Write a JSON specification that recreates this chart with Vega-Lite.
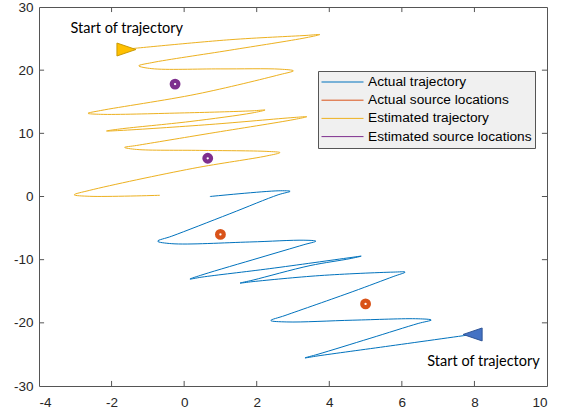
{
  "$schema": "https://vega.github.io/schema/vega-lite/v6.json",
  "width": 508,
  "height": 379,
  "autosize": "none",
  "padding": {"left": 39, "top": 7, "right": 16, "bottom": 29},
  "background": "white",
  "config": {
    "view": {"stroke": "#555555", "strokeWidth": 1},
    "axis": {
      "grid": false,
      "labelFont": "Liberation Sans",
      "labelFontSize": 13.5,
      "labelColor": "#262626",
      "domain": false,
      "ticks": false,
      "title": null,
      "labelExpr": "datum.value < 0 ? '-' + abs(datum.value) : '' + datum.value"
    },
    "legend": {
      "orient": "none",
      "legendX": 279,
      "legendY": 64,
      "fillColor": "#f0f0f0",
      "strokeColor": "#555555",
      "padding": 3,
      "labelFont": "Liberation Sans",
      "labelFontSize": 13.7,
      "labelColor": "#000000",
      "labelOffset": 4,
      "labelLimit": 400,
      "symbolSize": 1764,
      "symbolStrokeWidth": 1,
      "clipHeight": 16,
      "rowPadding": 2.2
    }
  },
  "datasets": {
    "traj": [
      {"s":"Actual trajectory","i":1,"x":7.94,"y":-21.84},
      {"s":"Actual trajectory","i":2,"x":5.68,"y":-23.65},
      {"s":"Actual trajectory","i":3,"x":3.69,"y":-25.23},
      {"s":"Actual trajectory","i":4,"x":3.33,"y":-25.55},
      {"s":"Actual trajectory","i":5,"x":3.69,"y":-24.97},
      {"s":"Actual trajectory","i":6,"x":5.12,"y":-22.46},
      {"s":"Actual trajectory","i":7,"x":6.45,"y":-20.10},
      {"s":"Actual trajectory","i":8,"x":6.81,"y":-19.55},
      {"s":"Actual trajectory","i":9,"x":6.45,"y":-19.36},
      {"s":"Actual trajectory","i":10,"x":4.65,"y":-19.58},
      {"s":"Actual trajectory","i":11,"x":2.83,"y":-19.86},
      {"s":"Actual trajectory","i":12,"x":2.39,"y":-19.63},
      {"s":"Actual trajectory","i":13,"x":2.78,"y":-18.84},
      {"s":"Actual trajectory","i":14,"x":4.65,"y":-15.05},
      {"s":"Actual trajectory","i":15,"x":5.76,"y":-12.68},
      {"s":"Actual trajectory","i":16,"x":6.09,"y":-11.97},
      {"s":"Actual trajectory","i":17,"x":5.76,"y":-11.97},
      {"s":"Actual trajectory","i":18,"x":3.74,"y":-12.52},
      {"s":"Actual trajectory","i":19,"x":1.90,"y":-13.47},
      {"s":"Actual trajectory","i":20,"x":1.54,"y":-13.71},
      {"s":"Actual trajectory","i":21,"x":1.90,"y":-13.23},
      {"s":"Actual trajectory","i":22,"x":3.47,"y":-10.94},
      {"s":"Actual trajectory","i":23,"x":4.57,"y":-9.84},
      {"s":"Actual trajectory","i":24,"x":4.88,"y":-9.44},
      {"s":"Actual trajectory","i":25,"x":4.57,"y":-9.68},
      {"s":"Actual trajectory","i":26,"x":2.36,"y":-11.42},
      {"s":"Actual trajectory","i":27,"x":0.49,"y":-12.76},
      {"s":"Actual trajectory","i":28,"x":0.16,"y":-13.07},
      {"s":"Actual trajectory","i":29,"x":0.52,"y":-12.36},
      {"s":"Actual trajectory","i":30,"x":2.09,"y":-9.68},
      {"s":"Actual trajectory","i":31,"x":3.30,"y":-7.63},
      {"s":"Actual trajectory","i":32,"x":3.63,"y":-7.07},
      {"s":"Actual trajectory","i":33,"x":3.30,"y":-6.92},
      {"s":"Actual trajectory","i":34,"x":1.81,"y":-7.20},
      {"s":"Actual trajectory","i":35,"x":-0.34,"y":-7.47},
      {"s":"Actual trajectory","i":36,"x":-0.73,"y":-7.07},
      {"s":"Actual trajectory","i":37,"x":-0.34,"y":-6.28},
      {"s":"Actual trajectory","i":38,"x":1.26,"y":-2.73},
      {"s":"Actual trajectory","i":39,"x":2.59,"y":0.27},
      {"s":"Actual trajectory","i":40,"x":2.92,"y":0.82},
      {"s":"Actual trajectory","i":41,"x":2.59,"y":0.90},
      {"s":"Actual trajectory","i":42,"x":0.71,"y":0.00},
      {"s":"Estimated trajectory","i":1,"x":-1.61,"y":23.32},
      {"s":"Estimated trajectory","i":2,"x":1.26,"y":24.82},
      {"s":"Estimated trajectory","i":3,"x":3.36,"y":25.50},
      {"s":"Estimated trajectory","i":4,"x":3.74,"y":25.64},
      {"s":"Estimated trajectory","i":5,"x":3.36,"y":25.14},
      {"s":"Estimated trajectory","i":6,"x":1.26,"y":23.16},
      {"s":"Estimated trajectory","i":7,"x":-0.89,"y":21.19},
      {"s":"Estimated trajectory","i":8,"x":-1.25,"y":20.69},
      {"s":"Estimated trajectory","i":9,"x":-0.89,"y":20.24},
      {"s":"Estimated trajectory","i":10,"x":0.99,"y":20.20},
      {"s":"Estimated trajectory","i":11,"x":2.64,"y":20.16},
      {"s":"Estimated trajectory","i":12,"x":3.01,"y":19.90},
      {"s":"Estimated trajectory","i":13,"x":2.64,"y":19.30},
      {"s":"Estimated trajectory","i":14,"x":0.35,"y":16.22},
      {"s":"Estimated trajectory","i":15,"x":-2.30,"y":13.61},
      {"s":"Estimated trajectory","i":16,"x":-2.65,"y":13.17},
      {"s":"Estimated trajectory","i":17,"x":-2.30,"y":13.01},
      {"s":"Estimated trajectory","i":18,"x":-0.12,"y":13.22},
      {"s":"Estimated trajectory","i":19,"x":1.87,"y":13.56},
      {"s":"Estimated trajectory","i":20,"x":2.23,"y":13.69},
      {"s":"Estimated trajectory","i":21,"x":1.87,"y":13.22},
      {"s":"Estimated trajectory","i":22,"x":0.16,"y":11.87},
      {"s":"Estimated trajectory","i":23,"x":-1.77,"y":10.69},
      {"s":"Estimated trajectory","i":24,"x":-2.14,"y":10.37},
      {"s":"Estimated trajectory","i":25,"x":-1.77,"y":10.45},
      {"s":"Estimated trajectory","i":26,"x":0.71,"y":11.40},
      {"s":"Estimated trajectory","i":27,"x":3.03,"y":12.51},
      {"s":"Estimated trajectory","i":28,"x":3.38,"y":12.63},
      {"s":"Estimated trajectory","i":29,"x":3.03,"y":12.19},
      {"s":"Estimated trajectory","i":30,"x":0.71,"y":10.00},
      {"s":"Estimated trajectory","i":31,"x":-1.31,"y":8.08},
      {"s":"Estimated trajectory","i":32,"x":-1.64,"y":7.77},
      {"s":"Estimated trajectory","i":33,"x":-1.31,"y":7.45},
      {"s":"Estimated trajectory","i":34,"x":0.43,"y":7.30},
      {"s":"Estimated trajectory","i":35,"x":2.28,"y":7.14},
      {"s":"Estimated trajectory","i":36,"x":2.64,"y":6.95},
      {"s":"Estimated trajectory","i":37,"x":2.28,"y":6.43},
      {"s":"Estimated trajectory","i":38,"x":0.24,"y":4.45},
      {"s":"Estimated trajectory","i":39,"x":-2.60,"y":0.98},
      {"s":"Estimated trajectory","i":40,"x":-3.03,"y":0.27},
      {"s":"Estimated trajectory","i":41,"x":-2.60,"y":0.03},
      {"s":"Estimated trajectory","i":42,"x":-0.67,"y":0.19}
    ],
    "src": [
      {"s":"Actual source locations","x":1.0,"y":-6.0},
      {"s":"Actual source locations","x":5.0,"y":-17.0},
      {"s":"Estimated source locations","x":-0.25,"y":17.8},
      {"s":"Estimated source locations","x":0.65,"y":6.05}
    ],
    "starts": [
      {"s":"Actual","x":7.95,"y":-21.84},
      {"s":"Estimated","x":-1.59,"y":23.27}
    ],
    "notes": [
      {"label":"Start of trajectory","x":-3.13,"y":26.48},
      {"label":"Start of trajectory","x":6.70,"y":-26.21}
    ],
    "xticks": [{"v":-2},{"v":0},{"v":2},{"v":4},{"v":6},{"v":8}],
    "yticks": [{"v":-20},{"v":-10},{"v":0},{"v":10},{"v":20}]
  },
  "layer": [
    {
      "data": {"name": "traj"},
      "mark": {"type": "line", "interpolate": "catmull-rom", "strokeWidth": 1},
      "encoding": {
        "x": {"field": "x", "type": "quantitative", "scale": {"domain": [-4, 10], "nice": false, "zero": false}, "axis": {"orient": "bottom", "values": [-4,-2,0,2,4,6,8,10], "labelPadding": 9}},
        "y": {"field": "y", "type": "quantitative", "scale": {"domain": [-30, 30], "nice": false, "zero": false}, "axis": {"orient": "left", "values": [-30,-20,-10,0,10,20,30], "labelPadding": 6}},
        "order": {"field": "i", "type": "quantitative"},
        "color": {
          "field": "s", "type": "nominal", "title": null,
          "scale": {"domain": ["Actual trajectory","Actual source locations","Estimated trajectory","Estimated source locations"], "range": ["#0072BD","#D95319","#EDB120","#7E2F8E"]},
          "legend": {"title": null, "symbolType": "stroke"}
        }
      }
    },
    {
      "data": {"name": "src"},
      "mark": {"type": "point", "shape": "circle", "filled": false, "fill": "white", "fillOpacity": 1, "size": 43, "strokeWidth": 4.3, "opacity": 1},
      "encoding": {
        "x": {"field": "x", "type": "quantitative"},
        "y": {"field": "y", "type": "quantitative"},
        "color": {"field": "s", "type": "nominal", "title": null, "legend": {"title": null, "symbolType": "stroke"}}
      }
    },
    {
      "data": {"name": "starts"},
      "transform": [{"filter": "datum.s == 'Actual'"}],
      "mark": {"type": "point", "shape": "M-1,0L1,-0.68L1,0.68Z", "size": 361, "filled": true, "fill": "#4472C4", "stroke": "#2F5597", "strokeWidth": 1, "opacity": 1},
      "encoding": {
        "x": {"field": "x", "type": "quantitative"},
        "y": {"field": "y", "type": "quantitative"}
      }
    },
    {
      "data": {"name": "starts"},
      "transform": [{"filter": "datum.s == 'Estimated'"}],
      "mark": {"type": "point", "shape": "M1,0L-1,-0.68L-1,0.68Z", "size": 361, "filled": true, "fill": "#FFC000", "stroke": "#C99A06", "strokeWidth": 1, "opacity": 1},
      "encoding": {
        "x": {"field": "x", "type": "quantitative"},
        "y": {"field": "y", "type": "quantitative"}
      }
    },
    {
      "data": {"name": "notes"},
      "mark": {"type": "text", "align": "left", "baseline": "middle", "font": "Lato", "fontSize": 14.5, "color": "#000000"},
      "encoding": {
        "x": {"field": "x", "type": "quantitative"},
        "y": {"field": "y", "type": "quantitative"},
        "text": {"field": "label", "type": "nominal"}
      }
    },
    {
      "data": {"name": "xticks"},
      "mark": {"type": "rule", "color": "#555555", "strokeWidth": 1},
      "encoding": {
        "x": {"field": "v", "type": "quantitative"},
        "y": {"datum": -30},
        "y2": {"datum": -29.2}
      }
    },
    {
      "data": {"name": "xticks"},
      "mark": {"type": "rule", "color": "#555555", "strokeWidth": 1},
      "encoding": {
        "x": {"field": "v", "type": "quantitative"},
        "y": {"datum": 30},
        "y2": {"datum": 29.2}
      }
    },
    {
      "data": {"name": "yticks"},
      "mark": {"type": "rule", "color": "#555555", "strokeWidth": 1},
      "encoding": {
        "y": {"field": "v", "type": "quantitative"},
        "x": {"datum": -4},
        "x2": {"datum": -3.86}
      }
    },
    {
      "data": {"name": "yticks"},
      "mark": {"type": "rule", "color": "#555555", "strokeWidth": 1},
      "encoding": {
        "y": {"field": "v", "type": "quantitative"},
        "x": {"datum": 10},
        "x2": {"datum": 9.86}
      }
    }
  ]
}
